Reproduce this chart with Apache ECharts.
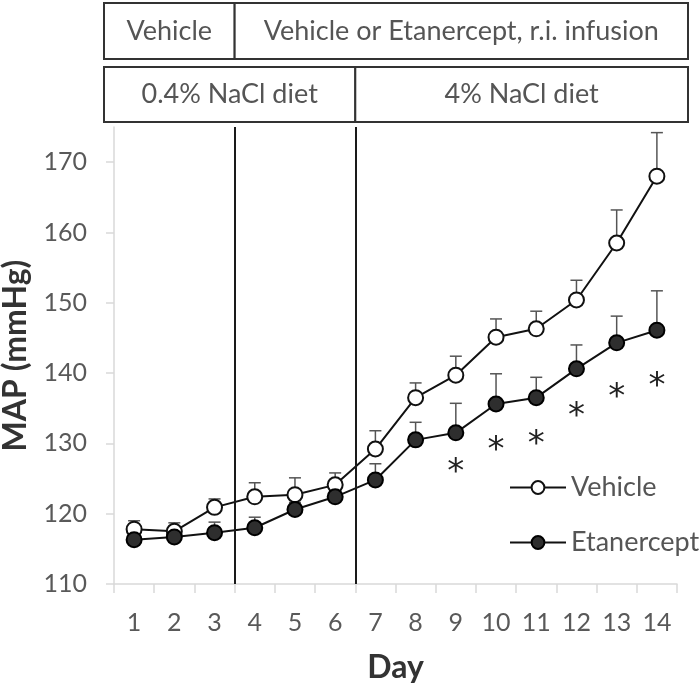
<!DOCTYPE html>
<html>
<head>
<meta charset="utf-8">
<script src="https://cdn.jsdelivr.net/npm/echarts@6/dist/echarts.min.js"></script>
<style>
html,body{margin:0;padding:0;background:#fff;}
#chart{width:700px;height:690px;}
</style>
</head>
<body>
<div id="chart"></div>
<script>
// ---- data ----
const days = ['1','2','3','4','5','6','7','8','9','10','11','12','13','14'];
const vehicleMean = [117.8,117.5,120.9,122.4,122.7,124.1,129.2,136.5,139.7,145.1,146.3,150.4,158.5,168.0];
const vehicleErr  = [1.2,1.2,1.2,2.0,2.4,1.7,2.6,2.1,2.7,2.6,2.5,2.8,4.7,6.2];
const etanerceptMean = [116.3,116.7,117.3,118.0,120.6,122.4,124.8,130.5,131.5,135.6,136.5,140.6,144.3,146.1];
const etanerceptErr  = [0.9,0.8,1.5,1.5,1.0,0.9,2.3,2.5,4.2,4.3,2.9,3.4,3.8,5.6];
const sigDays = ['9','10','11','12','13','14'];
const sigMarkY = [127.2,130.3,131.2,135.2,137.9,139.4];
const phaseBoundaries = [3, 6]; // vertical lines after day 3 and day 6
const yTicks = {min:110, max:175, interval:10};
const topRow = ['Vehicle', 'Vehicle or Etanercept, r.i. infusion'];
const bottomRow = ['0.4% NaCl diet', '4% NaCl diet'];

const FONT = 'Lato, "Open Sans", sans-serif';
const chart = echarts.init(document.getElementById('chart'), null, {renderer:'canvas'});

function errSeries(name, mean, err, z){
  return {
    type:'custom', name: name + ' err', xAxisIndex:0, yAxisIndex:0, z:z, silent:true,
    renderItem:function(params, api){
      const i = api.value(0);
      const p0 = api.coord([i, api.value(1)]);
      const p1 = api.coord([i, api.value(2)]);
      const hw = 6;
      const st = {stroke:'#555', lineWidth:1.5};
      return {type:'group', children:[
        {type:'line', shape:{x1:p0[0], y1:p0[1], x2:p1[0], y2:p1[1]}, style:st},
        {type:'line', shape:{x1:p1[0]-hw, y1:p1[1], x2:p1[0]+hw, y2:p1[1]}, style:st}
      ]};
    },
    data: mean.map((m,i)=>[i, m, +(m+err[i]).toFixed(2)]),
    encode:{x:0, y:[1,2]}
  };
}

const option = {
  animation:false,
  backgroundColor:'#fff',
  grid:{left:114, right:23, top:127, bottom:106, containLabel:false, outerBoundsMode:'none'},
  legend:{
    orient:'vertical', left:509, top:474, padding:0, itemWidth:56, itemHeight:16, itemGap:28,
    textStyle:{fontFamily:FONT, fontSize:27, lineHeight:20, color:'#555'},
    data:['Vehicle','Etanercept']
  },
  xAxis:[{
    type:'category', data:days, boundaryGap:true,
    name:'Day', nameLocation:'middle', nameGap:68,
    nameTextStyle:{fontFamily:FONT, fontSize:32, fontWeight:'bold', color:'#333'},
    axisLine:{lineStyle:{color:'#d9d9d9', width:1.5}},
    axisTick:{show:true, length:9, lineStyle:{color:'#d9d9d9', width:1.5}},
    axisLabel:{fontFamily:FONT, fontSize:25, color:'#595959', margin:26},
    splitLine:{show:false}
  },{
    type:'value', min:0, max:days.length, show:false
  }],
  yAxis:{
    type:'value', min:yTicks.min, max:yTicks.max, interval:yTicks.interval,
    name:'MAP (mmHg)', nameLocation:'middle', nameGap:82,
    nameTextStyle:{fontFamily:FONT, fontSize:32, fontWeight:'bold', color:'#333'},
    axisLine:{show:true, lineStyle:{color:'#d9d9d9', width:1.5}},
    axisTick:{show:true, length:8, lineStyle:{color:'#d9d9d9', width:1.5}},
    axisLabel:{fontFamily:FONT, fontSize:25, color:'#595959', margin:27, showMaxLabel:false},
    splitLine:{show:false}
  },
  series:[
    {
      type:'scatter', xAxisIndex:1, yAxisIndex:0, symbolSize:0, silent:true,
      data: phaseBoundaries.map(b=>[b, yTicks.min]),
      markLine:{
        silent:true, symbol:'none', label:{show:false},
        lineStyle:{color:'#1a1a1a', width:2, type:'solid'},
        data: phaseBoundaries.map(b=>({xAxis:b}))
      }
    },
    errSeries('Vehicle', vehicleMean, vehicleErr, 1),
    errSeries('Etanercept', etanerceptMean, etanerceptErr, 1),
    {
      name:'Vehicle', type:'line', data:vehicleMean, z:3,
      symbol:'circle', symbolSize:15, showSymbol:true,
      lineStyle:{color:'#111', width:2},
      itemStyle:{color:'#fff', borderColor:'#111', borderWidth:2}
    },
    {
      name:'Etanercept', type:'line', data:etanerceptMean, z:3,
      symbol:'circle', symbolSize:15, showSymbol:true,
      lineStyle:{color:'#111', width:2},
      itemStyle:{color:'#2e2e2e', borderColor:'#000', borderWidth:2}
    },
    {
      type:'scatter', name:'sig', silent:true, z:4,
      data: sigDays.map((d,i)=>[d, sigMarkY[i]]),
      symbolSize:1, itemStyle:{opacity:0},
      label:{show:true, formatter:'*', position:'inside', offset:[0,10],
        fontFamily:'"DejaVu Sans", sans-serif', fontSize:34, color:'#222', opacity:1}
    }
  ]
};
chart.setOption(option);

// header boxes aligned to the axis
const x0 = chart.convertToPixel({xAxisIndex:1}, 0);
const xN = chart.convertToPixel({xAxisIndex:1}, days.length);
const xB1 = chart.convertToPixel({xAxisIndex:1}, phaseBoundaries[0]);
const xB2 = chart.convertToPixel({xAxisIndex:1}, phaseBoundaries[1]);
const bl = x0 - 10, br = xN + 11;
const rows = [{y:3, h:56, div:xB1, texts:topRow}, {y:67, h:55, div:xB2, texts:bottomRow}];
const g = [];
rows.forEach(r=>{
  const st = {fill:'#fff', stroke:'#333', lineWidth:2};
  g.push({type:'rect', shape:{x:bl, y:r.y, width:r.div-bl, height:r.h}, style:st});
  g.push({type:'rect', shape:{x:r.div, y:r.y, width:br-r.div, height:r.h}, style:st});
  g.push({type:'text', x:(bl+r.div)/2, y:r.y+r.h/2, style:{text:r.texts[0], align:'center', verticalAlign:'middle', font:'27px '+FONT, fill:'#555'}});
  g.push({type:'text', x:(r.div+br)/2, y:r.y+r.h/2, style:{text:r.texts[1], align:'center', verticalAlign:'middle', font:'27px '+FONT, fill:'#555'}});
});
chart.setOption({graphic:g});
</script>
</body>
</html>
